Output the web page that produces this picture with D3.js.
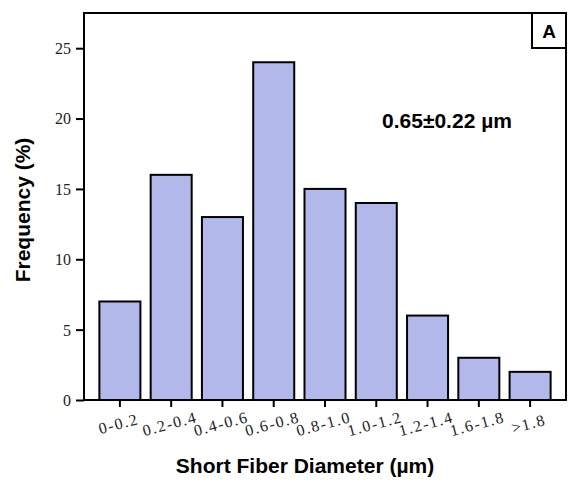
<!DOCTYPE html>
<html>
<head>
<meta charset="utf-8">
<script src="https://cdn.jsdelivr.net/npm/d3@7"></script>
<style>
  body { margin: 0; background: #fff; }
  svg { display: block; }
</style>
</head>
<body>
<svg></svg>
<script>
// diameter bins and their frequency (%)
const bins = ["0-0.2", "0.2-0.4", "0.4-0.6", "0.6-0.8", "0.8-1.0", "1.0-1.2", "1.2-1.4", "1.6-1.8", ">1.8"];
const freq = [7, 16, 13, 24, 15, 14, 6, 3, 2];
const yTicks = [0, 5, 10, 15, 20, 25];

const width = 568, height = 484;
const plotLeft = 84, plotRight = 566, plotTop = 13, plotBottom = 400;

const svg = d3.select("svg")
    .attr("width", width)
    .attr("height", height);

const x = d3.scaleBand()
    .domain(bins)
    .range([plotLeft, plotRight])
    .paddingInner(0.2)
    .paddingOuter(0.3);

const y = d3.scaleLinear()
    .domain([0, 27.5])
    .range([plotBottom, plotTop]);

// bars
svg.selectAll("rect.bar")
    .data(bins)
    .enter().append("rect")
    .attr("class", "bar")
    .attr("x", d => x(d))
    .attr("y", (d, i) => y(freq[i]))
    .attr("width", x.bandwidth())
    .attr("height", (d, i) => y(0) - y(freq[i]))
    .attr("fill", "#b3b8eb")
    .attr("stroke", "#000")
    .attr("stroke-width", 2);

// frame
svg.append("rect")
    .attr("x", plotLeft)
    .attr("y", plotTop)
    .attr("width", plotRight - plotLeft)
    .attr("height", plotBottom - plotTop)
    .attr("fill", "none")
    .attr("stroke", "#000")
    .attr("stroke-width", 2);

// y axis
const yAxis = svg.append("g")
    .attr("transform", `translate(${plotLeft},0)`)
    .call(d3.axisLeft(y).tickValues(yTicks).tickSize(8).tickSizeOuter(0));
yAxis.select(".domain").remove();
yAxis.selectAll(".tick line").attr("stroke-width", 2);
yAxis.selectAll(".tick text")
    .attr("x", -13)
    .attr("dy", "0.34em")
    .attr("font-family", "'Liberation Serif', 'DejaVu Serif', serif")
    .attr("font-size", 16)
    .attr("fill", "#222");

// x axis
const xAxis = svg.append("g")
    .attr("transform", `translate(0,${plotBottom})`)
    .call(d3.axisBottom(x).tickSize(7).tickSizeOuter(0));
xAxis.select(".domain").remove();
xAxis.selectAll(".tick line").attr("stroke-width", 2);
xAxis.selectAll(".tick text")
    .attr("y", 0)
    .attr("dy", 0)
    .attr("text-anchor", "middle")
    .attr("transform", "translate(0,29) rotate(-15)")
    .attr("font-family", "'Liberation Serif', 'DejaVu Serif', serif")
    .attr("font-size", 16)
    .attr("letter-spacing", 1.5)
    .attr("fill", "#222");

// axis titles
svg.append("text")
    .attr("x", 305)
    .attr("y", 473)
    .attr("text-anchor", "middle")
    .attr("font-family", "'Liberation Sans', Arial, sans-serif")
    .attr("font-weight", "bold")
    .attr("font-size", 21)
    .text("Short Fiber Diameter (µm)");

svg.append("text")
    .attr("transform", "translate(30,210) rotate(-90)")
    .attr("text-anchor", "middle")
    .attr("font-family", "'Liberation Sans', Arial, sans-serif")
    .attr("font-weight", "bold")
    .attr("font-size", 21)
    .text("Frequency (%)");

// annotation
svg.append("text")
    .attr("x", 447)
    .attr("y", 128)
    .attr("text-anchor", "middle")
    .attr("font-family", "'Liberation Sans', Arial, sans-serif")
    .attr("font-weight", "bold")
    .attr("font-size", 21)
    .text("0.65±0.22 µm");

// panel label
svg.append("rect")
    .attr("x", 532)
    .attr("y", plotTop)
    .attr("width", plotRight - 532)
    .attr("height", 35)
    .attr("fill", "#fff")
    .attr("stroke", "#000")
    .attr("stroke-width", 2);
svg.append("text")
    .attr("x", 549)
    .attr("y", 38)
    .attr("text-anchor", "middle")
    .attr("font-family", "'Liberation Sans', Arial, sans-serif")
    .attr("font-weight", "bold")
    .attr("font-size", 19)
    .text("A");
</script>
</body>
</html>
